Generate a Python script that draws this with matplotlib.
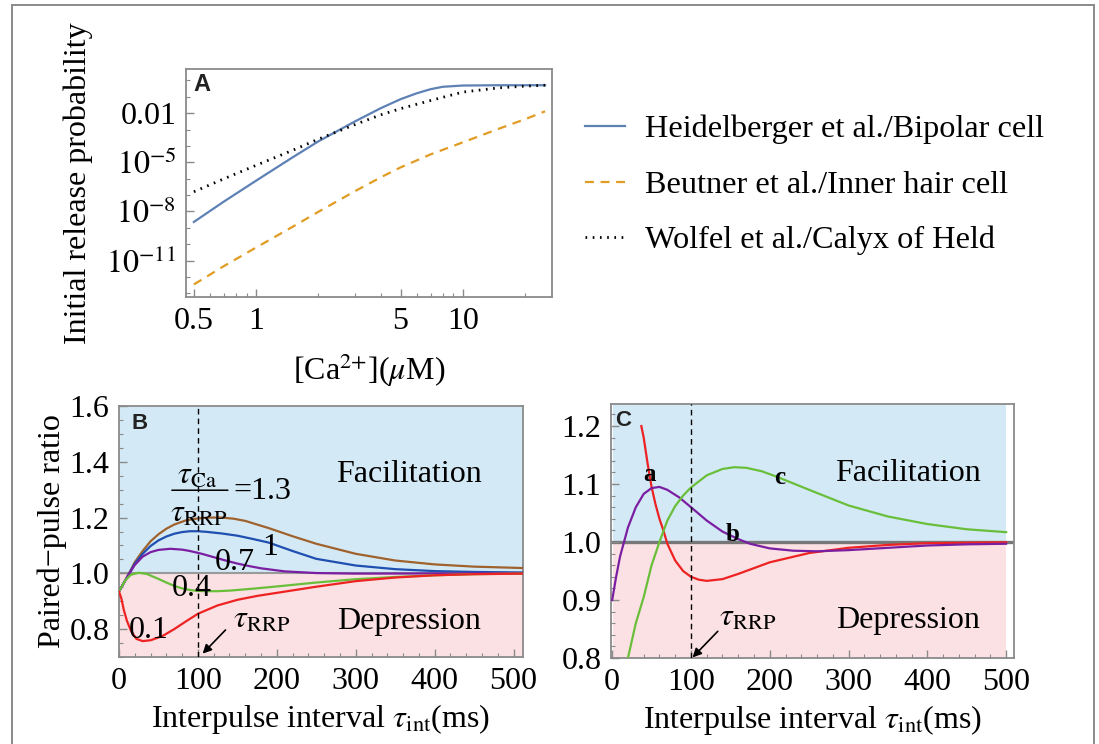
import numpy as np
import matplotlib
matplotlib.use('Agg')
import matplotlib.pyplot as plt
from matplotlib.ticker import FixedLocator, FixedFormatter, NullFormatter, MultipleLocator
from matplotlib.patches import Rectangle

plt.rcParams['font.family'] = ['Liberation Serif', 'DejaVu Serif']
plt.rcParams['mathtext.fontset'] = 'stix'

# ---------------- Panel A data ----------------
ca_conc = [0.5, 0.7, 1, 1.5, 2, 3, 4, 5, 6, 7, 8, 10, 15, 25]
p_heidelberger = [2.3e-9, 4.1e-8, 7.6e-7, 2.0e-5, 1.9e-4, 3.1e-3, 2.0e-2, 7.2e-2,
                  0.166, 0.295, 0.41, 0.49, 0.51, 0.51]
ca_conc2 = [0.5, 0.7, 1, 1.5, 2, 3, 4, 5, 7, 10, 15, 20, 25]
p_beutner = [3.5e-13, 4.7e-12, 6.3e-11, 1.15e-9, 9.5e-9, 1.7e-7, 1.2e-6, 4.9e-6,
             3.1e-5, 1.66e-4, 1.15e-3, 4.3e-3, 1.3e-2]
p_wolfel = [1.6e-7, 1.0e-6, 6.6e-6, 5.4e-5, 2.6e-4, 2.0e-3, 7.9e-3, 1.9e-2,
            6.0e-2, 0.195, 0.355, 0.45, 0.51]
legend_labels = ["Heidelberger et al./Bipolar cell",
                 "Beutner et al./Inner hair cell",
                 "Wolfel et al./Calyx of Held"]
a_xticks = [0.5, 1, 5, 10]
a_xticklabels = ["0.5", "1", "5", "10"]
a_yticks = [1e-2, 1e-5, 1e-8, 1e-11]
a_yticklabels = ["0.01", r"$10^{-5}$", r"$10^{-8}$", r"$10^{-11}$"]

# ---------------- Panel B data ----------------
b_t13 = [0, 10, 20, 30, 40, 50, 60, 70, 85, 100, 115, 130, 145, 160, 190, 220, 250,
         300, 350, 400, 450, 512]
b_r13 = [0.935, 0.985, 1.04, 1.08, 1.115, 1.14, 1.16, 1.175, 1.19, 1.197, 1.2, 1.2,
         1.196, 1.188, 1.162, 1.133, 1.106, 1.07, 1.046, 1.032, 1.024, 1.019]
b_t10 = [0, 10, 20, 30, 40, 50, 60, 70, 80, 90, 100, 110, 130, 150, 170, 190, 220,
         250, 300, 350, 400, 450, 512]
b_r10 = [0.935, 0.985, 1.035, 1.07, 1.098, 1.118, 1.132, 1.142, 1.148, 1.151, 1.151,
         1.149, 1.143, 1.135, 1.123, 1.11, 1.08, 1.052, 1.028, 1.015, 1.008, 1.005,
         1.003]
b_t07 = [0, 10, 20, 30, 40, 50, 65, 80, 90, 105, 120, 135, 150, 165, 180, 210, 250,
         300, 400, 512]
b_r07 = [0.935, 0.985, 1.03, 1.06, 1.076, 1.084, 1.088, 1.085, 1.08, 1.07, 1.058,
         1.046, 1.035, 1.026, 1.018, 1.007, 1.001, 0.999, 0.9995, 1.0]
b_t04 = [0, 8, 15, 25, 35, 50, 60, 70, 80, 90, 100, 110, 125, 140, 170, 200, 250,
         300, 350, 400, 450, 512]
b_r04 = [0.935, 0.975, 0.995, 1.002, 0.998, 0.98, 0.967, 0.955, 0.946, 0.94, 0.937,
         0.936, 0.936, 0.938, 0.945, 0.953, 0.967, 0.979, 0.987, 0.993, 0.997, 0.999]
b_t01 = [0, 3, 6, 10, 15, 22, 30, 40, 55, 70, 85, 100, 125, 150, 175, 200, 250, 300,
         350, 400, 450, 512]
b_r01 = [0.935, 0.91, 0.87, 0.83, 0.795, 0.765, 0.757, 0.76, 0.775, 0.8, 0.828,
         0.855, 0.885, 0.905, 0.919, 0.93, 0.952, 0.972, 0.985, 0.993, 0.997, 0.999]

# ---------------- Panel C data ----------------
c_ta = [37, 40, 45, 50, 55, 60, 65, 70, 80, 90, 100, 110, 120, 140, 160, 200, 250,
        300, 350, 400, 500]
c_ra = [1.2, 1.18, 1.135, 1.095, 1.065, 1.04, 1.02, 0.997, 0.968, 0.95, 0.94, 0.935,
        0.933, 0.936, 0.945, 0.965, 0.981, 0.99, 0.995, 0.998, 0.9995]
c_tb = [0, 5, 10, 15, 20, 30, 40, 50, 60, 70, 85, 100, 120, 140, 160, 175, 200, 230,
        260, 300, 350, 400, 450, 500]
c_rb = [0.9, 0.94, 0.975, 1.0, 1.025, 1.06, 1.083, 1.093, 1.095, 1.09, 1.077, 1.06,
        1.037, 1.018, 1.005, 0.997, 0.989, 0.985, 0.984, 0.986, 0.99, 0.994, 0.996,
        0.997]
c_tc = [20, 25, 30, 40, 50, 60, 70, 80, 90, 100, 120, 140, 155, 170, 190, 210, 250,
        300, 350, 400, 450, 500]
c_rc = [0.8, 0.83, 0.86, 0.905, 0.96, 1.0, 1.037, 1.062, 1.08, 1.094, 1.115, 1.126,
        1.129, 1.128, 1.122, 1.112, 1.09, 1.063, 1.044, 1.031, 1.022, 1.017]

pp_xticks = [0, 100, 200, 300, 400, 500]
b_yticks = [0.8, 1.0, 1.2, 1.4, 1.6]
c_yticks = [0.8, 0.9, 1.0, 1.1, 1.2]
tau_rrp = 100

# ---------------- styling ----------------
W, H = 1099, 744
FS = 23
fig = plt.figure(figsize=(W / 100, H / 100), dpi=100)
SPINE = '#8a8a8a'
BG_BLUE = '#d3e9f6'
BG_PINK = '#fbe1e3'


def add_ax(l, t, r, b):
    return fig.add_axes([l / W, 1 - b / H, (r - l) / W, (b - t) / H])


def style(ax):
    for s in ax.spines.values():
        s.set_color(SPINE)
        s.set_linewidth(1.3)
    ax.tick_params(which='both', direction='in', color=SPINE, labelsize=FS,
                   top=False, right=False, pad=7)
    ax.tick_params(which='major', length=6, width=1)
    ax.tick_params(which='minor', length=3, width=0.8)


# figure frame
fig.patches.append(Rectangle((12 / W, -0.02), (1094 - 12) / W, 1 - 5 / H + 0.02,
                             transform=fig.transFigure, fill=False,
                             edgecolor='#8a8a8a', lw=1.4, clip_on=False))

# ---------------- Panel A ----------------
axA = add_ax(186, 69, 552, 297)
style(axA)
axA.set_xscale('log')
axA.set_yscale('log')
lh, = axA.plot(ca_conc, p_heidelberger, color='#5e81b5', lw=1.6)
lb, = axA.plot(ca_conc2, p_beutner, color='#e19c24', lw=1.6, ls=(0, (4, 3)))
lw_, = axA.plot(ca_conc2, p_wolfel, color='black', lw=2.0, ls=(0, (0.6, 2.0)))
axA.set_xlim(0.458, 27.0)
axA.set_ylim(6e-14, 5.0)
axA.xaxis.set_major_locator(FixedLocator(a_xticks))
axA.xaxis.set_major_formatter(FixedFormatter(a_xticklabels))
axA.xaxis.set_minor_locator(FixedLocator([0.6, 0.7, 0.8, 0.9, 2, 3, 4, 6, 7, 8, 9, 20]))
axA.xaxis.set_minor_formatter(NullFormatter())
axA.yaxis.set_major_locator(FixedLocator(a_yticks))
axA.yaxis.set_major_formatter(FixedFormatter(a_yticklabels))
axA.yaxis.set_minor_locator(FixedLocator([10.0 ** k for k in range(-13, 1)]))
axA.yaxis.set_minor_formatter(NullFormatter())
axA.set_xlabel(r'[Ca$^{2{+}}$]($\mu$M)', fontsize=FS)
axA.xaxis.set_label_coords(0.5, -0.32)
axA.xaxis.label.set_va('center')
axA.set_ylabel('Initial release probability', fontsize=FS)
axA.yaxis.set_label_coords(-0.295, 0.5)
axA.yaxis.label.set_va('center')
axA.text(0.02, 0.93, 'A', transform=axA.transAxes, fontsize=17, fontweight='bold',
         family='Liberation Sans', va='center', ha='left', color='#222222')

fig.legend([lh, lb, lw_], legend_labels, loc='center left',
           bbox_to_anchor=(585 / W, 1 - 185 / H), frameon=False, fontsize=23.2,
           handlelength=1.25, handletextpad=0.6, labelspacing=0.8, borderpad=0,
           borderaxespad=0)

# ---------------- Panel B ----------------
axB = add_ax(119, 406, 523, 657)
style(axB)
axB.set_xlim(0, 512)
axB.set_ylim(0.7, 1.6)
axB.axhspan(1.0, 1.6, color=BG_BLUE, lw=0, zorder=0)
axB.axhspan(0.7, 1.0, color=BG_PINK, lw=0, zorder=0)
axB.axhline(1.0, color='#9a9a9a', lw=1.5, zorder=1)
axB.plot(b_t13, b_r13, color='#a0622d', lw=1.6, zorder=3)
axB.plot(b_t10, b_r10, color='#1f4fb0', lw=1.6, zorder=3)
axB.plot(b_t07, b_r07, color='#7b1fa2', lw=1.6, zorder=3)
axB.plot(b_t04, b_r04, color='#6abf3a', lw=1.6, zorder=3)
axB.plot(b_t01, b_r01, color='#ee2222', lw=1.6, zorder=3)
axB.axvline(tau_rrp, color='black', lw=1.0, ls=(0, (4, 3)), zorder=4)
axB.xaxis.set_major_locator(FixedLocator(pp_xticks))
axB.xaxis.set_minor_locator(MultipleLocator(20))
axB.yaxis.set_major_locator(FixedLocator(b_yticks))
axB.yaxis.set_major_formatter(FixedFormatter(['%.1f' % v for v in b_yticks]))
axB.yaxis.set_minor_locator(MultipleLocator(0.05))
axB.set_xlabel(r'Interpulse interval $\tau_{\mathrm{int}}$(ms)', fontsize=FS)
axB.xaxis.set_label_coords(0.5, -0.247)
axB.xaxis.label.set_va('center')
axB.set_ylabel('Paired\u2212pulse ratio', fontsize=FS)
axB.yaxis.set_label_coords(-0.165, 0.5)
axB.yaxis.label.set_va('center')
axB.text(0.03, 0.93, 'B', transform=axB.transAxes, fontsize=16, fontweight='bold',
         family='Liberation Sans', va='center', ha='left', color='#222222')
# ratio label tau_Ca / tau_RRP = 1.3
axB.text(99, 1.322, r'$\tau_{\mathrm{Ca}}$', fontsize=FS, ha='center', va='baseline', zorder=5)
axB.annotate('', xy=(138, 1.298), xytext=(67, 1.298),
             arrowprops=dict(arrowstyle='-', color='black', lw=1.1,
                             shrinkA=0, shrinkB=0), zorder=5)
axB.text(101, 1.184, r'$\tau_{\mathrm{RRP}}$', fontsize=FS, ha='center', va='baseline', zorder=5)
axB.text(145, 1.268, '=1.3', fontsize=FS, ha='left', va='baseline', zorder=5)
axB.text(192, 1.094, '1', fontsize=FS, ha='center', va='center', zorder=5)
axB.text(147, 1.04, '0.7', fontsize=FS, ha='center', va='center', zorder=5)
axB.text(92, 0.945, '0.4', fontsize=FS, ha='center', va='center', zorder=5)
axB.text(38, 0.796, '0.1', fontsize=FS, ha='center', va='center', zorder=5)
axB.text(367, 1.356, 'Facilitation', fontsize=FS, ha='center', va='center')
axB.text(367, 0.826, 'Depression', fontsize=FS, ha='center', va='center')
axB.text(181, 0.83, r'$\tau_{\mathrm{RRP}}$', fontsize=FS, ha='center', va='center', zorder=5)
axB.annotate('', xy=(106, 0.712), xytext=(135, 0.797),
             arrowprops=dict(arrowstyle='-|>', color='black', lw=1.2,
                             shrinkA=0, shrinkB=0, mutation_scale=13), zorder=5)

# ---------------- Panel C ----------------
axC = add_ax(611, 404, 1014, 658)
style(axC)
axC.set_xlim(-1.5, 510)
axC.set_ylim(0.8, 1.238)
axC.fill_between([1, 500], 1.0, 1.238, color=BG_BLUE, lw=0, zorder=0)
axC.fill_between([1, 500], 0.8, 1.0, color=BG_PINK, lw=0, zorder=0)
axC.axhline(1.0, color='#777777', lw=2.4, zorder=1)
axC.plot(c_ta, c_ra, color='#ee2222', lw=1.6, zorder=3)
axC.plot(c_tb, c_rb, color='#7b1fa2', lw=1.6, zorder=3)
axC.plot(c_tc, c_rc, color='#6abf3a', lw=1.6, zorder=3)
axC.axvline(tau_rrp, color='black', lw=1.0, ls=(0, (4, 3)), zorder=4)
axC.xaxis.set_major_locator(FixedLocator(pp_xticks))
axC.xaxis.set_minor_locator(MultipleLocator(20))
axC.yaxis.set_major_locator(FixedLocator(c_yticks))
axC.yaxis.set_major_formatter(FixedFormatter(['%.1f' % v for v in c_yticks]))
axC.yaxis.set_minor_locator(MultipleLocator(0.02))
axC.set_xlabel(r'Interpulse interval $\tau_{\mathrm{int}}$(ms)', fontsize=FS)
axC.xaxis.set_label_coords(0.5, -0.244)
axC.xaxis.label.set_va('center')
axC.text(13.5, 1.21, 'C', fontsize=16, fontweight='bold', family='Liberation Sans',
         va='center', ha='center', color='#222222')
axC.text(47, 1.116, 'a', fontsize=18, fontweight='bold', ha='center', va='center', zorder=5)
axC.text(153, 1.013, 'b', fontsize=18, fontweight='bold', ha='center', va='center', zorder=5)
axC.text(213, 1.112, 'c', fontsize=18, fontweight='bold', ha='center', va='center', zorder=5)
axC.text(376, 1.119, 'Facilitation', fontsize=FS, ha='center', va='center')
axC.text(376, 0.864, 'Depression', fontsize=FS, ha='center', va='center')
axC.text(172, 0.868, r'$\tau_{\mathrm{RRP}}$', fontsize=FS, ha='center', va='center', zorder=5)
axC.annotate('', xy=(102, 0.801), xytext=(134, 0.846),
             arrowprops=dict(arrowstyle='-|>', color='black', lw=1.2,
                             shrinkA=0, shrinkB=0, mutation_scale=13), zorder=5)

fig.savefig('out.png', dpi=100)
